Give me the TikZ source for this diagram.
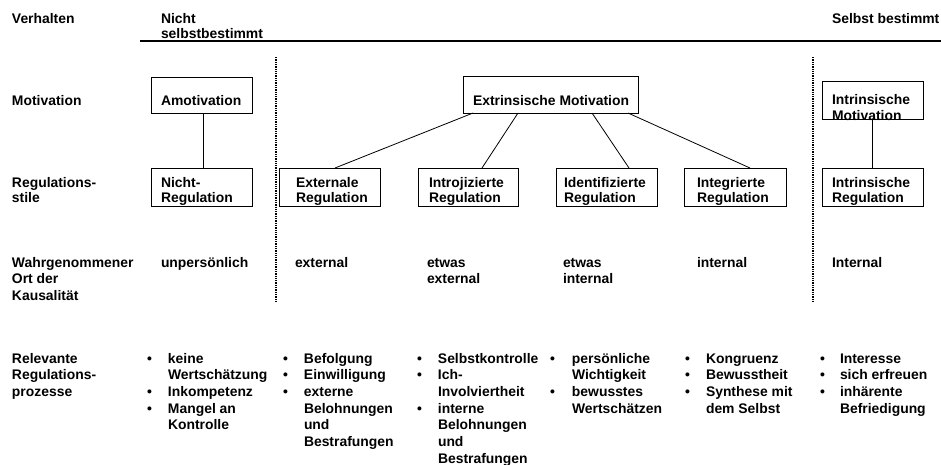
\documentclass[tikz,border=0pt]{standalone}
\usepackage{fontspec}
\setmainfont{Liberation Sans}
\newcommand\ml[2][15]{{\fontsize{13.9}{#1}\selectfont\begin{tabular}[t]{@{}l@{}}#2\end{tabular}}}
\newcommand\bl{\makebox[21pt][l]{•}}
\newcommand\nb{\hspace*{21pt}}
\tikzset{
  box/.style={draw, line width=0.9pt, inner sep=0pt, outer sep=0pt, anchor=north west},
  txt/.style={anchor=base west, inner sep=0pt, outer sep=0pt, font=\bfseries\fontsize{13.9}{15}\selectfont},
  conn/.style={line width=0.8pt},
  sep/.style={line width=1.3pt, densely dotted},
  rule/.style={line width=1.4pt}
}
\begin{document}
\begin{tikzpicture}[x=1pt,y=-1pt]
\useasboundingbox (0,0) rectangle (941,464);
% header
\node[txt] (verh) at (12,23) {Verhalten};
\node[txt] (nsb) at (161,23) {\ml{Nicht\\selbstbestimmt}};
\node[txt] (sb) at (832,23) {Selbst bestimmt};
\coordinate (rl) at (140,41);
\coordinate (rr) at (941,41);
\draw[rule] (rl) -- (rr);
% dotted separators
\coordinate (d1a) at (276,57); \coordinate (d1b) at (276,301);
\coordinate (d2a) at (813,57); \coordinate (d2b) at (813,301);
\draw[sep] (d1a) -- (d1b);
\draw[sep] (d2a) -- (d2b);
% row labels
\node[txt] (lmot) at (12,105) {Motivation};
\node[txt] (lreg) at (12,187) {\ml{Regulations-\\stile}};
\node[txt] (lort) at (12,267) {\ml[16.5]{Wahrgenommener\\Ort der\\Kausalität}};
\node[txt] (lrel) at (12,363) {\ml[16.5]{Relevante\\Regulations-\\prozesse}};
% boxes
\node[box, minimum width=101pt, minimum height=36pt] (amo) at (151,77) {};
\node[txt] (amot) at (161,105) {Amotivation};
\node[box, minimum width=101pt, minimum height=38pt] (nreg) at (151,168) {};
\node[txt] (nregt) at (161,187) {\ml{Nicht-\\Regulation}};
\node[box, minimum width=175pt, minimum height=37pt] (extm) at (463,76) {};
\node[txt] (extmt) at (473,105) {Extrinsische Motivation};
\node[box, minimum width=101pt, minimum height=38pt] (exr) at (279,168) {};
\node[txt] (exrt) at (296,187) {\ml{Externale\\Regulation}};
\node[box, minimum width=100pt, minimum height=38pt] (inr) at (418,168) {};
\node[txt] (inrt) at (429,187) {\ml{Introjizierte\\Regulation}};
\node[box, minimum width=101pt, minimum height=38pt] (idr) at (556,168) {};
\node[txt] (idrt) at (564,187) {\ml{Identifizierte\\Regulation}};
\node[box, minimum width=102pt, minimum height=38pt] (igr) at (684,168) {};
\node[txt] (igrt) at (697,187) {\ml{Integrierte\\Regulation}};
\node[box, minimum width=101pt, minimum height=38pt] (intm) at (822,81) {};
\node[txt] (intmt) at (832,104) {\ml[16]{Intrinsische\\Motivation}};
\node[box, minimum width=101pt, minimum height=38pt] (intr) at (822,168) {};
\node[txt] (intrt) at (832,187) {\ml{Intrinsische\\Regulation}};
% connectors
\draw[conn] ([xshift=1.5pt]amo.south) -- ([xshift=1.5pt]nreg.north);
\draw[conn] (intm.south) -- (intr.north);
\draw[conn] ([xshift=10pt]extm.south west) -- ([xshift=56pt]exr.north west);
\draw[conn] ([xshift=55pt]extm.south west) -- ([xshift=64pt]inr.north west);
\draw[conn] ([xshift=129pt]extm.south west) -- ([xshift=73pt]idr.north west);
\draw[conn] ([xshift=165pt]extm.south west) -- ([xshift=66pt]igr.north west);
% locus of causality
\node[txt] (k1) at (161,267) {unpersönlich};
\node[txt] (k2) at (295,267) {external};
\node[txt] (k3) at (427,267) {\ml[16]{etwas\\external}};
\node[txt] (k4) at (563,267) {\ml[16]{etwas\\internal}};
\node[txt] (k5) at (697,267) {internal};
\node[txt] (k6) at (832,267) {Internal};
% processes
\node[txt] (p1) at (147,363) {\ml[16.7]{\bl keine\\\nb Wertschätzung\\\bl Inkompetenz\\\bl Mangel an\\\nb Kontrolle}};
\node[txt] (p2) at (283,363) {\ml[16.7]{\bl Befolgung\\\bl Einwilligung\\\bl externe\\\nb Belohnungen\\\nb und\\\nb Bestrafungen}};
\node[txt] (p3) at (417,363) {\ml[16.7]{\bl Selbstkontrolle\\\bl Ich-\\\nb Involviertheit\\\bl interne\\\nb Belohnungen\\\nb und\\\nb Bestrafungen}};
\node[txt] (p4) at (550,363) {\ml[16.7]{\makebox[22pt][l]{•}persönliche\\\hspace*{22pt}Wichtigkeit\\\makebox[22pt][l]{•}bewusstes\\\hspace*{22pt}Wertschätzen}};
\node[txt] (p5) at (685,363) {\ml[16.7]{\bl Kongruenz\\\bl Bewusstheit\\\bl Synthese mit\\\nb dem Selbst}};
\node[txt] (p6) at (820,363) {\ml[16.7]{\makebox[20pt][l]{•}Interesse\\\makebox[20pt][l]{•}sich erfreuen\\\makebox[20pt][l]{•}inhärente\\\hspace*{20pt}Befriedigung}};
\end{tikzpicture}
\end{document}
